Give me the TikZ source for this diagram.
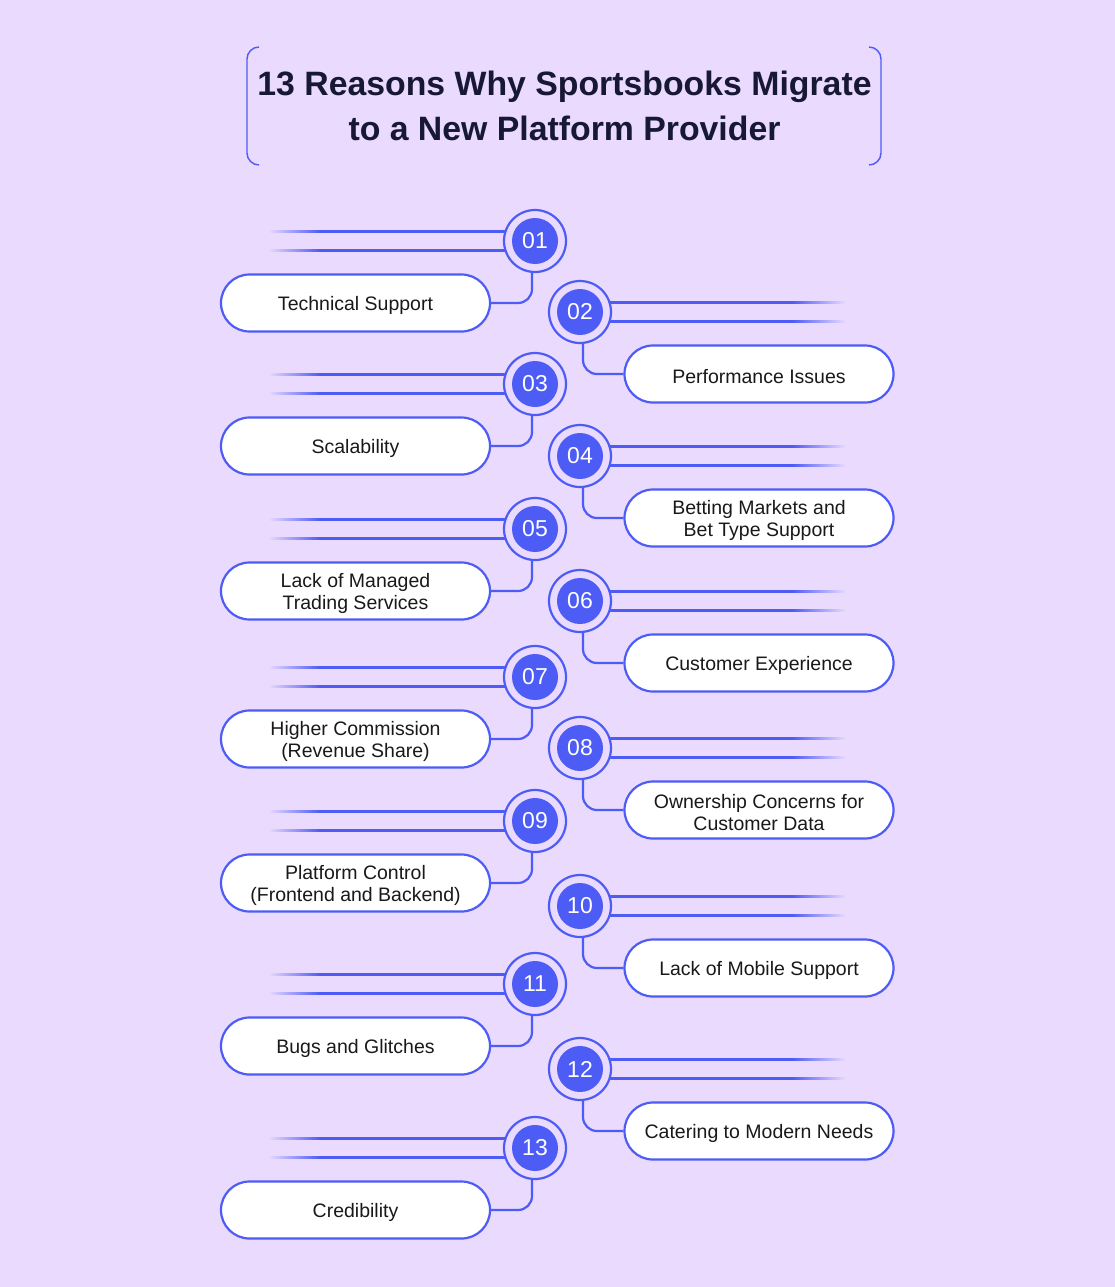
\documentclass[tikz,border=0pt]{standalone}
\usepackage{fontspec}
\setmainfont{Liberation Sans}
\definecolor{bg}{RGB}{233,218,254}
\definecolor{bl}{HTML}{4D5CF5}
\definecolor{ttl}{HTML}{171833}
\pgfdeclarelayer{background}
\pgfsetlayers{background,main}
\tikzset{
  ring/.style={circle, draw=bl, line width=2.2pt, fill=bg, minimum size=62pt, inner sep=0pt,
    text=white, font=\fontsize{23}{23}\selectfont,
    path picture={\fill[bl] (path picture bounding box.center) circle (23pt);}},
  pill/.style={rectangle, rounded corners=28.5pt, draw=bl, fill=white, line width=2.2pt,
    minimum width=269pt, minimum height=57pt, inner sep=0pt},
  pilltext/.style={align=center, inner sep=0pt, text=black!90, font=\fontsize{19.5}{22}\selectfont},
  conn/.style={draw=bl, line width=2.2pt, rounded corners=14pt},
  ray/.style={draw=bl, line width=2.2pt},
  titlebr/.style={draw=bl, line width=1.4pt, rounded corners=12pt}
}
\begin{document}
\begin{tikzpicture}[x=1pt,y=-1pt]
\begin{pgfonlayer}{background}
\fill[bg] (0,0) rectangle (1115,1287);
\end{pgfonlayer}
\useasboundingbox (0,0) rectangle (1115,1287);
% title
\node[font=\fontsize{33.8}{45}\selectfont\bfseries, text=ttl, align=center] (title) at (564.5,106)
  {13 Reasons Why Sportsbooks Migrate\\to a New Platform Provider};
\draw[titlebr] (259,47) -- (247,47) -- (247,165) -- (259,165);
\draw[titlebr] (869,47) -- (881,47) -- (881,165) -- (869,165);
% left items
\foreach \n/\y/\t in {01/241/{Technical Support}, 03/384/{Scalability}, 05/529/{Lack of Managed\\Trading Services}, 07/677/{Higher Commission\\(Revenue Share)}, 09/821/{Platform Control\\(Frontend and Backend)}, 11/984/{Bugs and Glitches}, 13/1148/{Credibility}}{
  \node[ring] (c\n) at (535,\y) {\n};
  \node[pill] (p\n) at (355.5,\y+62) {};
  \node[pilltext] (t\n) at ([yshift=-2.5pt]p\n.center) {\t};
  \begin{pgfonlayer}{background}
    \shade[left color=bg, right color=bl] (268,\y-10.6) rectangle (320,\y-8.4);
    \shade[left color=bg, right color=bl] (268,\y+8.4) rectangle (320,\y+10.6);
    \draw[ray] (319,\y-9.5) -- (c\n.center |- 0,\y-9.5);
    \draw[ray] (319,\y+9.5) -- (c\n.center |- 0,\y+9.5);
    \draw[conn] ([xshift=-3pt]c\n.south) |- (p\n.east);
  \end{pgfonlayer}
}
% right items
\foreach \n/\y/\t in {02/312/{Performance Issues}, 04/456/{Betting Markets and\\Bet Type Support}, 06/601/{Customer Experience}, 08/748/{Ownership Concerns for\\Customer Data}, 10/906/{Lack of Mobile Support}, 12/1069/{Catering to Modern Needs}}{
  \node[ring] (c\n) at (580,\y) {\n};
  \node[pill] (p\n) at (759,\y+62) {};
  \node[pilltext] (t\n) at ([yshift=-2.5pt]p\n.center) {\t};
  \begin{pgfonlayer}{background}
    \shade[left color=bl, right color=bg] (792,\y-10.6) rectangle (846,\y-8.4);
    \shade[left color=bl, right color=bg] (792,\y+8.4) rectangle (846,\y+10.6);
    \draw[ray] (c\n.center |- 0,\y-9.5) -- (793,\y-9.5);
    \draw[ray] (c\n.center |- 0,\y+9.5) -- (793,\y+9.5);
    \draw[conn] ([xshift=3pt]c\n.south) |- (p\n.west);
  \end{pgfonlayer}
}
\end{tikzpicture}
\end{document}
